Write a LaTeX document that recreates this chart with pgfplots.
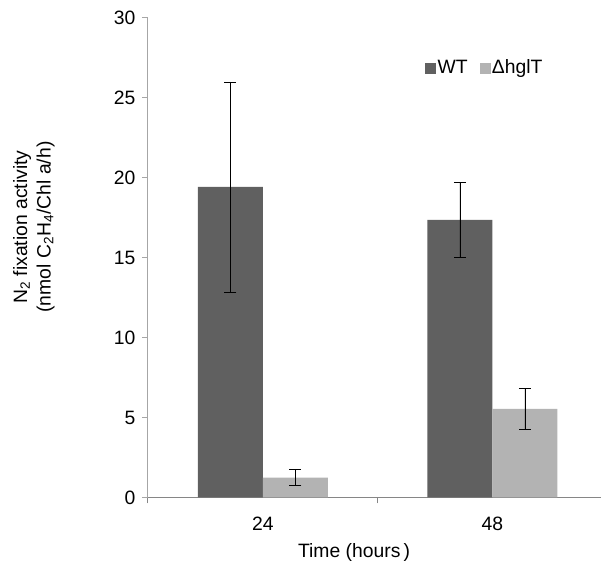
\documentclass[border=0pt]{standalone}
\usepackage{fontspec}
\setmainfont{Liberation Sans}
\usepackage{pgfplots}
\pgfplotsset{compat=1.18}
\definecolor{wt}{HTML}{606060}
\definecolor{mut}{HTML}{B3B3B3}
\definecolor{yax}{HTML}{A6A6A6}
\definecolor{xax}{HTML}{868686}
\begin{document}
\fontsize{14.5}{17.6}\selectfont
\begin{tikzpicture}[x=1pt,y=1pt]
\useasboundingbox (-111,-54.375) rectangle (339.75,373.125);
\begin{axis}[
  at={(0,0)}, anchor=south west,
  scale only axis, width=339.75pt, height=359.625pt,
  xmin=-0.5, xmax=1.4728, ymin=0, ymax=30,
  axis x line*=bottom, axis y line*=left,
  x axis line style={-, draw=xax, line width=0.75pt},
  y axis line style={-, draw=yax, line width=0.75pt},
  ybar=0pt, bar width=48.75pt,
  xtick={0,1}, xticklabels={24,48},
  minor xtick={-0.5,0.5,1.5},
  ytick={0,5,...,30},
  tick align=outside,
  major tick length=4.5pt,
  minor tick length=4.5pt,
  major x tick style={draw=none},
  y tick style={draw=yax, line width=0.75pt},
  minor x tick style={draw=xax, line width=0.75pt},
  /pgf/number format/assume math mode=true,
  tick label style={font=\fontsize{14.5}{17.6}\selectfont, text=black},
  xticklabel style={yshift=-5pt},
  xlabel={Time (hours\,)},
  xlabel style={at={(axis description cs:0.455,0)}, anchor=center, yshift=-41.6pt, font=\fontsize{14.5}{17.6}\selectfont},
  ylabel={N\textsubscript{2} fixation activity\\(nmol C\textsubscript{2}H\textsubscript{4}/Chl a/h)},
  ylabel style={at={(axis description cs:-0.252,0.564)}, anchor=center, align=center, font=\fontsize{14.5}{17.6}\selectfont},
  legend columns=2,
  legend style={draw=none, fill=none, at={(axis description cs:0.6115,0.895)}, anchor=west, inner sep=0pt,
    font=\fontsize{14.5}{17.6}\selectfont,
    nodes={inner sep=1pt},
    /tikz/every even column/.append style={column sep=8pt}},
  error bars/y dir=both, error bars/y explicit,
  error bars/error bar style={black, line width=0.6pt},
  error bars/error mark options={rotate=90, mark size=4.5pt, black, line width=0.6pt},
]
\addplot[fill=wt, draw=none,
  legend image code/.code={\fill[wt] (0pt,-4.1pt) rectangle (8.25pt,4.1pt);}]
  coordinates {(0,19.43) +- (0,6.57) (1,17.37) +- (0,2.34)};
\addplot[fill=mut, draw=none,
  legend image code/.code={\fill[mut] (0pt,-4.1pt) rectangle (8.25pt,4.1pt);}]
  coordinates {(0,1.24) +- (0,0.5) (1,5.54) +- (0,1.28)};
\legend{WT, ΔhglT}
\end{axis}
\end{tikzpicture}
\end{document}
